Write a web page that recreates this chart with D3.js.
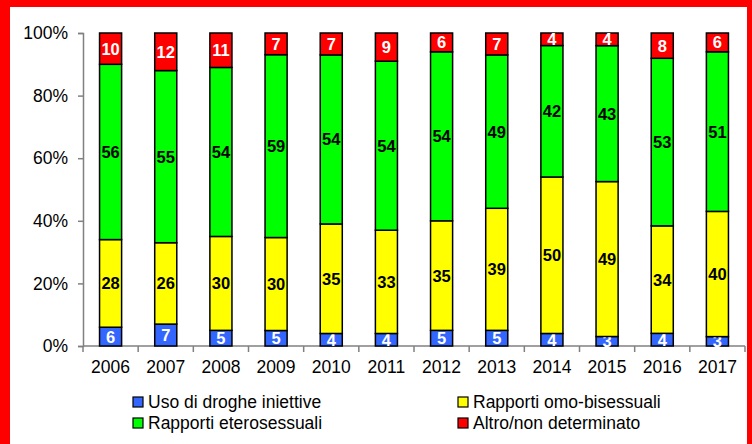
<!DOCTYPE html>
<html><head><meta charset="utf-8">
<script src="https://cdn.jsdelivr.net/npm/d3@7"></script>
<style>body{margin:0;background:#fff}svg{display:block}</style>
</head><body>
<script>
const years = ["2006","2007","2008","2009","2010","2011","2012","2013","2014","2015","2016","2017"];
const droghe = [6,7,5,5,4,4,5,5,4,3,4,3];
const omo = [28,26,30,30,35,33,35,39,50,49,34,40];
const etero = [56,55,54,59,54,54,54,49,42,43,53,51];
const altro = [10,12,11,7,7,9,6,7,4,4,8,6];
const seriesNames = ["Uso di droghe iniettive","Rapporti omo-bisessuali","Rapporti eterosessuali","Altro/non determinato"];
const colors = ["#3366ff","#ffff00","#00ff00","#ff0000"];
const labelColors = ["#fff","#000","#000","#fff"];
const yTicks = [0,0.2,0.4,0.6,0.8,1];

const W = 752, H = 444;
const svg = d3.select("body").append("svg").attr("width", W).attr("height", H);
svg.append("rect").attr("width", W).attr("height", H).attr("fill", "#ff0000");
svg.append("rect").attr("x", 10).attr("y", 7).attr("width", 737).attr("height", H - 7).attr("fill", "#fff");

const keys = ["d","o","e","a"];
const rows = years.map((y, i) => ({year: y, d: droghe[i], o: omo[i], e: etero[i], a: altro[i]}));
const stack = d3.stack().keys(keys).offset(d3.stackOffsetExpand)(rows);

const x = d3.scaleBand().domain(years).range([83, 745]).paddingInner(0.6).paddingOuter(0.3);
const y = d3.scaleLinear().domain([0, 1]).range([346, 33]);

const font = "'Liberation Sans', Arial, sans-serif";
const fs = 17.5;

// axes
const yAxis = svg.append("g").attr("transform", "translate(83,0)")
  .call(d3.axisLeft(y).tickValues(yTicks).tickFormat(d3.format(".0%")).tickSizeOuter(0).tickSize(5).tickPadding(10));
yAxis.select(".domain").attr("stroke", "#808080").attr("stroke-width", 1.5);
yAxis.selectAll(".tick line").attr("stroke", "#808080").attr("stroke-width", 1.5);
yAxis.selectAll("text").attr("font-family", font).attr("font-size", fs).attr("fill", "#000");

const xb = d3.scaleLinear().domain([0, 12]).range([83, 745]);
const xAxisG = svg.append("g").attr("transform", "translate(0,346)");
xAxisG.append("line").attr("x1", 83).attr("x2", 745).attr("stroke", "#808080").attr("stroke-width", 1.5);
xAxisG.selectAll("line.t").data(d3.range(13)).join("line").attr("class","t")
  .attr("x1", d => xb(d)).attr("x2", d => xb(d)).attr("y1", 0).attr("y2", 6)
  .attr("stroke", "#808080").attr("stroke-width", 1.5);
xAxisG.selectAll("text").data(years).join("text")
  .attr("x", d => x(d) + x.bandwidth() / 2).attr("y", 27)
  .attr("text-anchor", "middle").attr("font-family", font).attr("font-size", fs).attr("fill", "#000")
  .text(d => d);

// bars
const groups = svg.selectAll("g.series").data(stack).join("g").attr("class", "series");
groups.each(function(s, si) {
  const g = d3.select(this);
  g.selectAll("rect").data(s).join("rect")
    .attr("x", d => x(d.data.year))
    .attr("width", x.bandwidth())
    .attr("y", d => y(d[1]))
    .attr("height", d => y(d[0]) - y(d[1]))
    .attr("fill", colors[si])
    .attr("stroke", "#000").attr("stroke-width", 1.5);
});
groups.each(function(s, si) {
  const g = d3.select(this);
  g.selectAll("text").data(s).join("text")
    .attr("x", d => x(d.data.year) + x.bandwidth() / 2)
    .attr("y", d => (y(d[0]) + y(d[1])) / 2)
    .attr("dy", "0.36em")
    .attr("text-anchor", "middle")
    .attr("font-family", font).attr("font-weight", "bold").attr("font-size", 16.5)
    .attr("fill", labelColors[si])
    .text(d => d.data[keys[si]]);
});

// legend
const legPos = [[133,402],[458,402],[133,423],[458,423]];
[0,1,2,3].forEach((si, k) => {
  const [lx, ly] = legPos[k];
  svg.append("rect").attr("x", lx).attr("y", ly - 5).attr("width", 10).attr("height", 10)
    .attr("fill", colors[si]).attr("stroke", "#000").attr("stroke-width", 1.2);
  svg.append("text").attr("x", lx + 15).attr("y", ly).attr("dy", "0.36em")
    .attr("font-family", font).attr("font-size", fs).attr("fill", "#000").text(seriesNames[si]);
});
</script>
</body></html>
